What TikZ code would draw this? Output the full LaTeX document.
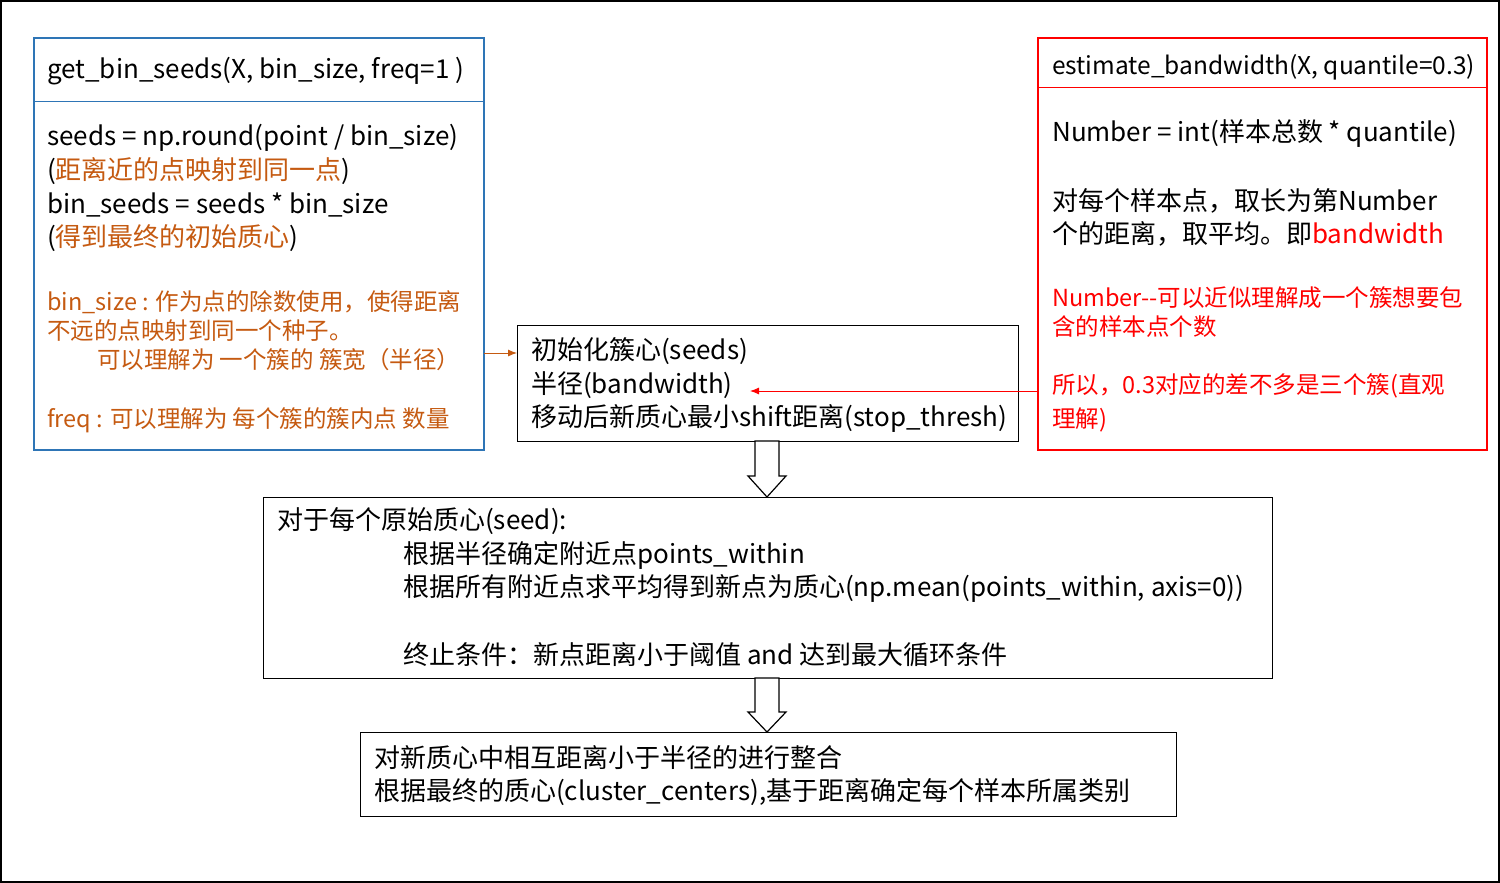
\documentclass[tikz,border=0pt]{standalone}
\usepackage{fontspec}
\setmainfont{Noto Sans CJK SC}
\usetikzlibrary{arrows.meta}
\definecolor{org}{RGB}{197,90,17}
\definecolor{bl}{RGB}{46,117,182}
\definecolor{rd}{RGB}{255,0,0}
\begin{document}
\begin{tikzpicture}[x=1pt,y=-1pt,
 t/.style={anchor=west,inner sep=0pt,font=\fontsize{26}{28}\selectfont},
 s/.style={anchor=west,inner sep=0pt,font=\fontsize{23.5}{26}\selectfont},
 hollow/.style={draw,fill=white,line width=1.2pt},
 tip/.style={-{Latex[length=9pt,width=7pt]},line width=0.9pt}]
\useasboundingbox (0,0) rectangle (1500,883);
\draw[line width=1.5pt] (1,1) rectangle (1499,882);
% left box
\draw[bl,line width=1.2pt] (34,38) rectangle (484,450);
\draw[bl,line width=1pt] (34,101) -- (484,101);
\node[t] (l1) at (47,71) {get\_bin\_seeds(X, bin\_size, freq=1 )};
\node[t] (l2) at (47,138) {seeds = np.round(point / bin\_size)};
\node[t] (l3) at (47,171) {(\textcolor{org}{距离近的点映射到同一点})};
\node[t] (l4) at (47,205) {bin\_seeds = seeds * bin\_size};
\node[t] (l5) at (47,238) {(\textcolor{org}{得到最终的初始质心})};
\node[s,org] (l6) at (47,302) {bin\_size : 作为点的除数使用，使得距离};
\node[s,org] (l7) at (47,331) {不远的点映射到同一个种子。};
\node[s,org] (l8) at (97,360) {可以理解为 一个簇的 簇宽（半径）};
\node[s,org] (l9) at (47,420) {freq : 可以理解为 每个簇的簇内点 数量};
% middle box
\node[draw,line width=1.2pt,minimum width=501pt,minimum height=116pt,anchor=north west] (mid) at (517,325) {};
\node[t] (m1) at (531,351) {初始化簇心(seeds)};
\node[t] (m2) at (531,385) {半径(bandwidth)};
\node[t] (m3) at (531,418) {移动后新质心最小shift距离(stop\_thresh)};
\coordinate (la) at (484,353);
\draw[org,tip] (la) -- (mid.west |- la);
% right box
\draw[rd,line width=1.2pt] (1038,38) rectangle (1487,450);
\draw[rd,line width=1pt] (1038,88) -- (1487,88);
\node[t,font=\fontsize{24.5}{26}\selectfont] (r1) at (1052,67) {estimate\_bandwidth(X, quantile=0.3)};
\node[t] (r2) at (1052,134) {Number = int(样本总数 * quantile)};
\node[t] (r3) at (1052,201) {对每个样本点，取长为第Number};
\node[t] (r4) at (1052,234) {个的距离，取平均。即\textcolor{rd}{bandwidth}};
\node[s,rd] (r5) at (1052,298) {Number{-}{-}可以近似理解成一个簇想要包};
\node[s,rd] (r6) at (1052,327) {含的样本点个数};
\node[s,rd] (r7) at (1052,386) {所以，0.3对应的差不多是三个簇(直观};
\node[s,rd] (r8) at (1052,420) {理解)};
\coordinate (ra) at (1038,391);
\coordinate (rb) at (750,391);
\draw[rd,tip] (ra) -- (rb);
% big box
\node[draw,line width=1.2pt,minimum width=1009pt,minimum height=181pt,anchor=north west] (big) at (263,497) {};
\node[t] (b1) at (277,521) {对于每个原始质心(seed):};
\node[t] (b2) at (403,555) {根据半径确定附近点points\_within};
\node[t] (b3) at (403,589) {根据所有附近点求平均得到新点为质心(np.mean(points\_within, axis=0))};
\node[t] (b4) at (403,655) {终止条件：新点距离小于阈值 and 达到最大循环条件};
% bottom box
\node[draw,line width=1.2pt,minimum width=816pt,minimum height=84pt,anchor=north west] (bot) at (360,732) {};
\node[t] (c1) at (374,758) {对新质心中相互距离小于半径的进行整合};
\node[t] (c2) at (374,792) {根据最终的质心(cluster\_centers),基于距离确定每个样本所属类别};
% hollow arrows
\draw[hollow] (755,441) -- (779,441) -- (779,476) -- (786,476) -- (767,497) -- (748,476) -- (755,476) -- cycle;
\draw[hollow] (755,678) -- (779,678) -- (779,712) -- (786,712) -- (767,732) -- (748,712) -- (755,712) -- cycle;
\end{tikzpicture}
\end{document}
